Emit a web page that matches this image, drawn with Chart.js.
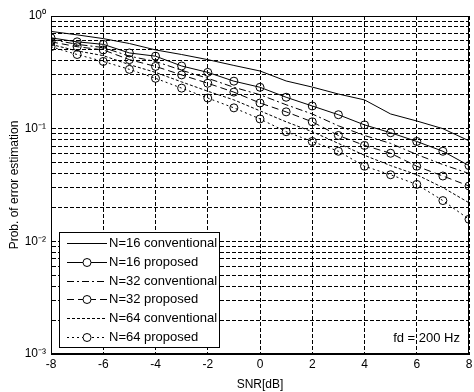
<!DOCTYPE html>
<html>
<head>
<meta charset="utf-8">
<script src="https://cdn.jsdelivr.net/npm/chart.js@4.4.1/dist/chart.umd.min.js"></script>
<style>
  html, body { margin: 0; padding: 0; background: #fff; }
  #wrap { width: 474px; height: 392px; }
</style>
</head>
<body>
<div id="wrap"><canvas id="errChart" width="474" height="392"></canvas></div>
<script>
// SNR points (dB)
const snr = [-8, -7, -6, -5, -4, -3, -2, -1, 0, 1, 2, 3, 4, 5, 6, 7, 8];

// probability of error estimation
const conv16 = [0.73, 0.68, 0.63, 0.57, 0.50, 0.455, 0.41, 0.364, 0.325, 0.265, 0.234, 0.203, 0.18, 0.135, 0.117, 0.1, 0.078];
const prop16 = [0.64, 0.59, 0.56, 0.47, 0.44, 0.36, 0.316, 0.264, 0.233, 0.19, 0.159, 0.133, 0.108, 0.092, 0.077, 0.063, 0.047];
const conv32 = [0.62, 0.56, 0.525, 0.44, 0.395, 0.33, 0.28, 0.233, 0.2, 0.163, 0.135, 0.106, 0.087, 0.074, 0.059, 0.048, 0.04];
const prop32 = [0.59, 0.534, 0.50, 0.41, 0.357, 0.30, 0.253, 0.211, 0.169, 0.141, 0.115, 0.087, 0.071, 0.0605, 0.0464, 0.038, 0.031];
const conv64 = [0.56, 0.49, 0.445, 0.37, 0.316, 0.26, 0.215, 0.18, 0.144, 0.115, 0.094, 0.074, 0.058, 0.047, 0.039, 0.03, 0.022];
const prop64 = [0.534, 0.455, 0.395, 0.336, 0.28, 0.229, 0.187, 0.153, 0.122, 0.094, 0.077, 0.063, 0.0464, 0.039, 0.032, 0.023, 0.0157];

const seriesLabels = ['N=16 conventional', 'N=16 proposed', 'N=32 conventional', 'N=32 proposed', 'N=64 conventional', 'N=64 proposed'];
const decadeLabels = { '1': '10\u2070', '0.1': '10\u207B\u00B9', '0.01': '10\u207B\u00B2', '0.001': '10\u207B\u00B3' };
const noteText = 'fd = 200 Hz';

const FONT = "'Liberation Sans', Arial, Helvetica, sans-serif";

function pts(arr) {
    return snr.map((x, i) => ({ x: x, y: arr[i] }));
}

function series(label, arr, dash, marker) {
    return {
        label: label,
        data: pts(arr),
        borderColor: '#000',
        borderWidth: 1,
        borderDash: dash,
        backgroundColor: 'transparent',
        pointRadius: marker ? 4 : 0,
        pointBorderColor: '#000',
        pointBackgroundColor: 'transparent',
        pointBorderWidth: 1,
        tension: 0,
        fill: false
    };
}

// box round the plot, legend box and the fd note
const framePlugin = {
    id: 'frame',
    afterDraw(chart) {
        const ctx = chart.ctx;
        const a = chart.chartArea;
        ctx.save();
        ctx.strokeStyle = '#000';
        ctx.lineWidth = 1;
        ctx.setLineDash([]);
        ctx.strokeRect(a.left + 0.5, a.top + 0.5, a.right - a.left - 1, a.bottom - a.top - 1);

        // legend
        const bx = a.left + 8, bw = 160, bh = 115;
        const by = a.bottom - 7 - bh;
        ctx.fillStyle = '#fff';
        ctx.fillRect(bx, by, bw, bh);
        ctx.strokeRect(bx + 0.5, by + 0.5, bw, bh);
        ctx.font = '13px ' + FONT;
        ctx.textBaseline = 'middle';
        chart.data.datasets.forEach((ds, i) => {
            const yy = Math.round(by + 11 + i * 18.8) + 0.5;
            ctx.strokeStyle = '#000';
            ctx.setLineDash(ds.borderDash || []);
            ctx.beginPath();
            ctx.moveTo(bx + 8, yy);
            ctx.lineTo(bx + 48, yy);
            ctx.stroke();
            ctx.setLineDash([]);
            if (ds.pointRadius > 0) {
                ctx.beginPath();
                ctx.arc(bx + 28, yy, 4, 0, Math.PI * 2);
                ctx.fillStyle = '#fff';
                ctx.fill();
                ctx.stroke();
            }
            ctx.fillStyle = '#000';
            ctx.textAlign = 'left';
            ctx.fillText(ds.label, bx + 50, yy);
        });

        ctx.textAlign = 'right';
        ctx.fillText(noteText, a.right - 9, a.bottom - 16);
        ctx.restore();
    }
};

const logTicks = [];
[0.001, 0.01, 0.1].forEach(d => {
    for (let k = 1; k <= 9; k++) logTicks.push(+(d * k).toPrecision(3));
});
logTicks.push(1);

const dashGrid = [4, 2];

new Chart(document.getElementById('errChart').getContext('2d'), {
    type: 'line',
    data: {
        datasets: [
            series(seriesLabels[0], conv16, [], false),
            series(seriesLabels[1], prop16, [], true),
            series(seriesLabels[2], conv32, [7, 3, 2, 3], false),
            series(seriesLabels[3], prop32, [7, 4], true),
            series(seriesLabels[4], conv64, [3, 2], false),
            series(seriesLabels[5], prop64, [2, 3], true)
        ]
    },
    options: {
        responsive: false,
        animation: false,
        layout: { padding: { top: 16, right: 2, bottom: 0, left: 0 } },
        plugins: {
            legend: { display: false },
            tooltip: { enabled: false }
        },
        scales: {
            x: {
                type: 'linear',
                min: -8,
                max: 8,
                ticks: {
                    stepSize: 2,
                    color: '#000',
                    padding: 3,
                    font: { family: FONT, size: 12 }
                },
                grid: { color: '#000', drawTicks: false, lineWidth: 1 },
                border: { color: '#000', dash: dashGrid },
                title: {
                    display: true,
                    text: 'SNR[dB]',
                    color: '#000',
                    padding: { top: 1, bottom: 0 },
                    font: { family: FONT, size: 12 }
                },
                afterFit(scale) {
                    scale.height = 38;
                    scale.paddingLeft = 0;
                    scale.paddingRight = 0;
                }
            },
            y: {
                type: 'logarithmic',
                min: 0.001,
                max: 1,
                afterBuildTicks(scale) {
                    scale.ticks = logTicks.map(v => ({ value: v, major: false }));
                },
                ticks: {
                    autoSkip: false,
                    color: '#000',
                    padding: 5,
                    font: { family: FONT, size: 12 },
                    callback: function(value) {
                        const key = String(+value.toPrecision(3));
                        return decadeLabels[key] || '';
                    }
                },
                grid: { color: '#000', drawTicks: false, lineWidth: 1 },
                border: { color: '#000', dash: dashGrid },
                title: {
                    display: true,
                    text: 'Prob. of error estimation',
                    color: '#000',
                    padding: { top: 7, bottom: 2 },
                    font: { family: FONT, size: 12 }
                },
                afterFit(scale) {
                    scale.width = 51;
                }
            }
        }
    },
    plugins: [framePlugin]
});
</script>
</body>
</html>
